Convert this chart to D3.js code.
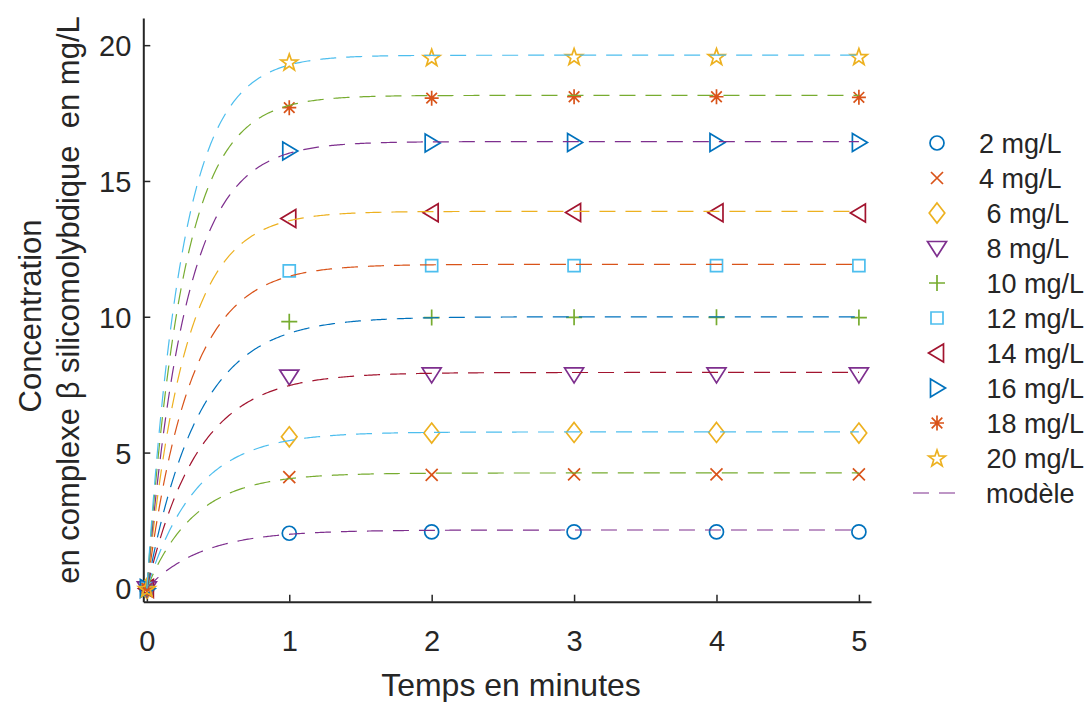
<!DOCTYPE html>
<html><head><meta charset="utf-8">
<script src="https://cdn.jsdelivr.net/npm/d3@7"></script>
<style>
html,body{margin:0;padding:0;background:#fff;}
text{font-family:"Liberation Sans",Arial,Helvetica,sans-serif;fill:#262626;}
</style></head>
<body>
<svg id="chart" width="1092" height="702"></svg>
<script>
// ---- data ----
const times = [0, 1, 2, 3, 4, 5];
const seriesLabels = ["2 mg/L", "4 mg/L", " 6 mg/L", " 8 mg/L", " 10 mg/L", " 12 mg/L", " 14 mg/L", " 16 mg/L", " 18 mg/L", " 20 mg/L"];
const c2  = [0, 2.03, 2.08, 2.08, 2.08, 2.08];
const c4  = [0, 4.10, 4.18, 4.20, 4.20, 4.20];
const c6  = [0, 5.58, 5.72, 5.74, 5.74, 5.72];
const c8  = [0, 7.80, 7.88, 7.88, 7.88, 7.88];
const c10 = [0, 9.82, 9.97, 9.98, 9.98, 9.97];
const c12 = [0, 11.69, 11.88, 11.88, 11.88, 11.88];
const c14 = [0, 13.62, 13.83, 13.84, 13.83, 13.82];
const c16 = [0, 16.10, 16.40, 16.42, 16.42, 16.42];
const c18 = [0, 17.70, 18.05, 18.10, 18.10, 18.08];
const c20 = [0, 19.38, 19.55, 19.58, 19.58, 19.58];
const seriesValues = [c2, c4, c6, c8, c10, c12, c14, c16, c18, c20];
// model (first-order kinetics) parameters
const modelPlateau = [2.15, 4.25, 5.76, 7.95, 10.0, 11.93, 13.88, 16.45, 18.15, 19.63];
const modelRate    = [2.6, 3.0, 2.9, 2.8, 2.8, 3.3, 3.7, 3.65, 3.9, 4.0];
const xTicks = [0, 1, 2, 3, 4, 5];
const yTicks = [0, 5, 10, 15, 20];
const modelLabel = "modèle";
const xLabel = "Temps en minutes";
const yLabel1 = "Concentration";
const yLabel2 = "en complexe β silicomolybdique  en mg/L";

// ---- styles ----
const palette = ["#0072BD", "#D95319", "#EDB120", "#7E2F8E", "#77AC30", "#4DBEEE", "#A2142F"];
const markerTypes = ["o", "x", "d", "v", "+", "s", "<", ">", "*", "p"];

const svg = d3.select("#chart");
const x = d3.scaleLinear().domain([-0.025, 5.085]).range([143.3, 871]);
const y = d3.scaleLinear().domain([-0.49, 21.0]).range([601.7, 18]);

function markerPath(type) {
  const p = d3.path();
  switch (type) {
    case "o": p.arc(0, 0, 7, 0, 2 * Math.PI); break;
    case "x": p.moveTo(-6, -6); p.lineTo(6, 6); p.moveTo(-6, 6); p.lineTo(6, -6); break;
    case "d": p.moveTo(0, -10); p.lineTo(7.8, 0); p.lineTo(0, 10); p.lineTo(-7.8, 0); p.closePath(); break;
    case "v": p.moveTo(-9.5, -6.5); p.lineTo(9.5, -6.5); p.lineTo(0, 8.5); p.closePath(); break;
    case "+": p.moveTo(-8, 0); p.lineTo(8, 0); p.moveTo(0, -8); p.lineTo(0, 8); break;
    case "s": p.rect(-6, -6, 12, 12); break;
    case "<": p.moveTo(-8.5, 0); p.lineTo(6.5, -9); p.lineTo(6.5, 9); p.closePath(); break;
    case ">": p.moveTo(8.5, 0); p.lineTo(-6.5, -9); p.lineTo(-6.5, 9); p.closePath(); break;
    case "*":
      p.moveTo(-7, 0); p.lineTo(7, 0); p.moveTo(0, -7.5); p.lineTo(0, 7.5);
      p.moveTo(-5.3, -5.3); p.lineTo(5.3, 5.3); p.moveTo(-5.3, 5.3); p.lineTo(5.3, -5.3); break;
    case "p": {
      const R = 8.8, r = 3.5;
      for (let i = 0; i < 10; i++) {
        const a = -Math.PI / 2 + i * Math.PI / 5;
        const rad = i % 2 === 0 ? R : r;
        const px = rad * Math.cos(a), py = rad * Math.sin(a) + 0.8;
        if (i === 0) p.moveTo(px, py); else p.lineTo(px, py);
      }
      p.closePath(); break;
    }
  }
  return p.toString();
}

// ---- axes ----
const gx = svg.append("g").attr("transform", "translate(0,601.7)")
  .call(d3.axisBottom(x).tickValues(xTicks).tickSizeInner(-7).tickSizeOuter(0).tickPadding(29).tickFormat(d3.format("d")));
const gy = svg.append("g").attr("transform", "translate(143.3,0)")
  .call(d3.axisLeft(y).tickValues(yTicks).tickSizeInner(-7).tickSizeOuter(0).tickPadding(12).tickFormat(d3.format("d")));
[gx, gy].forEach(g => {
  g.select(".domain").attr("stroke", "#262626").attr("stroke-width", 2);
  g.selectAll(".tick line").attr("stroke", "#262626").attr("stroke-width", 1.5);
  g.selectAll(".tick text").attr("fill", "#262626").style("font-size", "29px")
   .style("font-family", '"Liberation Sans",Arial,sans-serif');
});
gy.selectAll(".tick text").attr("dy", "0.36em");

// ---- markers (data) ----
const plot = svg.append("g");
seriesValues.forEach((vals, i) => {
  const col = palette[i % 7];
  plot.append("g").selectAll("path").data(times.map((t, j) => [t, vals[j]])).join("path")
    .attr("d", markerPath(markerTypes[i]))
    .attr("transform", d => `translate(${x(d[0])},${y(d[1])})`)
    .attr("fill", "none").attr("stroke", col).attr("stroke-width", 1.7).attr("stroke-linejoin", "miter");
});

// ---- model lines ----
const tSamples = d3.range(0, 5.0001, 0.01);
const line = d3.line().x(d => x(d[0])).y(d => y(d[1]));
modelPlateau.forEach((cmax, i) => {
  const col = palette[(i + 10) % 7];
  const pts = tSamples.map(t => [t, cmax * (1 - Math.exp(-modelRate[i] * t))]);
  plot.append("path").datum(pts).attr("d", line)
    .attr("fill", "none").attr("stroke", col).attr("stroke-width", 1.2)
    .attr("stroke-dasharray", "16,10");
});

// ---- labels ----
svg.append("text").attr("x", 511).attr("y", 696).attr("text-anchor", "middle")
  .style("font-size", "32px").text(xLabel);
const yl = svg.append("g").attr("transform", "rotate(-90)");
yl.append("text").attr("x", -316).attr("y", 41).attr("text-anchor", "middle")
  .style("font-size", "31px").text(yLabel1);
yl.append("text").attr("x", -300).attr("y", 79).attr("text-anchor", "middle")
  .style("font-size", "31px").style("white-space", "pre").text(yLabel2);

// ---- legend ----
const legX = 937, legY0 = 143, legDy = 35;
const leg = svg.append("g");
seriesLabels.forEach((lab, i) => {
  const cy = legY0 + i * legDy;
  leg.append("path").attr("d", markerPath(markerTypes[i]))
    .attr("transform", `translate(${legX},${cy})`)
    .attr("fill", "none").attr("stroke", palette[i % 7]).attr("stroke-width", 1.7);
  leg.append("text").attr("x", 979).attr("y", cy).attr("dy", "0.36em")
    .style("font-size", "27px").style("white-space", "pre").text(lab);
});
const my = legY0 + 10 * legDy;
leg.append("line").attr("x1", 913).attr("x2", 961).attr("y1", my).attr("y2", my)
  .attr("stroke", palette[3]).attr("stroke-width", 1.2).attr("stroke-dasharray", "16,10");
leg.append("text").attr("x", 986).attr("y", my).attr("dy", "0.36em")
  .style("font-size", "27px").text(modelLabel);
</script>
</body></html>
